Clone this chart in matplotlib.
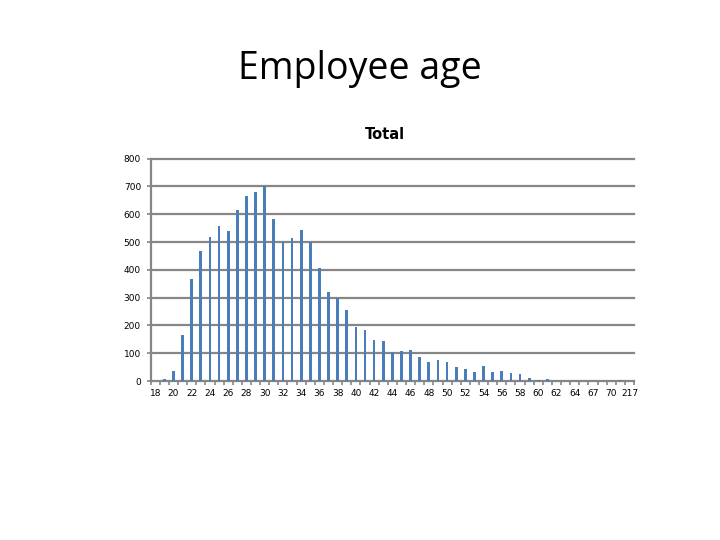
import numpy as np
import matplotlib
matplotlib.use("Agg")
import matplotlib.pyplot as plt

ages = [str(a) for a in range(18, 65)] + ["65", "67", "69", "70", "71", "217"]
counts = [1, 6, 35, 165, 366, 468, 520, 557, 539, 617,
          667, 681, 703, 584, 499, 513, 545, 499, 408, 322,
          300, 254, 194, 182, 148, 145, 105, 108, 113, 88,
          70, 75, 67, 52, 45, 33, 54, 33, 36, 29,
          27, 12, 3, 6, 1, 0, 0,
          0, 0, 0, 0, 4, 0]
yticks = [0, 100, 200, 300, 400, 500, 600, 700, 800]

grid_col = "#868686"
bar_col = "#4A7EBB"

fig = plt.figure(figsize=(7.2, 5.4), dpi=100)
fig.text(0.5, 0.872, "Employee age", ha="center", va="center",
         fontsize=27, family="Open Sans")
ax = fig.add_axes([0.2093, 0.2944, 0.6713, 0.4117])

x = np.arange(len(ages))
ax.bar(x, counts, width=0.3, color=bar_col, zorder=3)

ax.set_xlim(-0.5, len(ages) - 0.5)
ax.set_ylim(0, 800)
ax.set_yticks(yticks)
ax.set_yticklabels([str(v) for v in yticks], fontsize=6.5)
for v in yticks[1:]:
    ax.axhline(v, color=grid_col, lw=1.6, zorder=1, clip_on=False)

ax.set_xticks(x[::2])
ax.set_xticklabels(ages[::2], fontsize=6.5)
ax.set_xticks(np.arange(len(ages) + 1) - 0.5, minor=True)
ax.tick_params(axis="x", which="major", length=0, pad=6)
ax.tick_params(axis="x", which="minor", length=3, color=grid_col, width=1.2)
ax.tick_params(axis="y", length=3, color=grid_col, width=1.2, pad=4)

for s in ["top", "right"]:
    ax.spines[s].set_visible(False)
for s in ["left", "bottom"]:
    ax.spines[s].set_color(grid_col)
    ax.spines[s].set_linewidth(1.6)

ax.set_title("Total", fontsize=10.5, fontweight="bold", pad=14, x=0.485)

fig.savefig("out.png", dpi=100)
